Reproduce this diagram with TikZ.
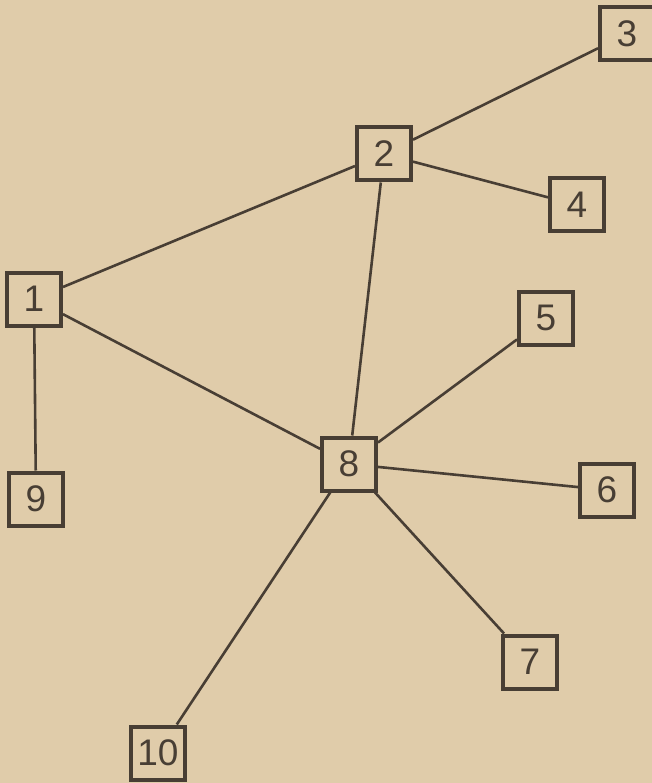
\documentclass[tikz,border=0pt]{standalone}
\usepackage{fontspec}
\setmainfont{Liberation Sans}
\definecolor{paper}{RGB}{224,204,170}
\definecolor{ink}{RGB}{72,62,52}
\begin{document}
\begin{tikzpicture}[x=1pt,y=-1pt,
  box/.style={draw=ink,line width=4pt,minimum width=54pt,minimum height=53pt,inner sep=0pt,
    font=\fontsize{37}{40}\selectfont,text=ink},
  edge/.style={draw=ink,line width=2.6pt}]
\fill[paper] (0,0) rectangle (652,783);
\useasboundingbox (0,0) rectangle (652,783);
\node[box] (n1) at (34,299) {1};
\node[box] (n2) at (384,154) {2};
\node[box] (n3) at (627,34) {3};
\node[box] (n4) at (577,205) {4};
\node[box] (n5) at (546,318) {5};
\node[box] (n6) at (607,490) {6};
\node[box] (n7) at (530,662) {7};
\node[box] (n8) at (349,464) {8};
\node[box] (n9) at (36,499) {9};
\node[box] (n10) at (158,753) {10};
\draw[edge] (n1) -- (n2);
\draw[edge] (n2) -- (n3);
\draw[edge] (n2) -- (n4);
\draw[edge] (n2) -- (n8);
\draw[edge] (n1) -- (n9);
\draw[edge] (n1) -- (n8);
\draw[edge] (n8) -- (n5);
\draw[edge] (n8) -- (n6);
\draw[edge] (n8) -- (n7);
\draw[edge] (n8) -- (n10);
\end{tikzpicture}
\end{document}
